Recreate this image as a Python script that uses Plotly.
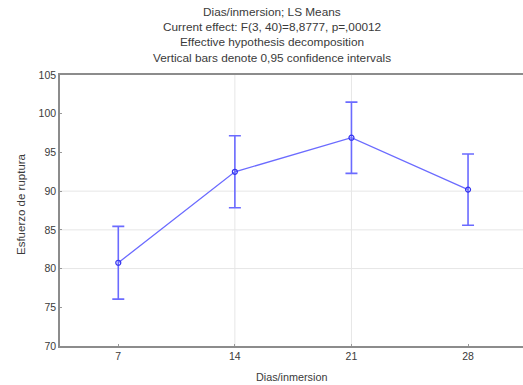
import plotly.graph_objects as go

days = [7, 14, 21, 28]
means = [80.75, 92.5, 96.9, 90.2]
ci_half = [4.7, 4.65, 4.6, 4.6]
x_ticks = [7, 14, 21, 28]
y_ticks = [70, 75, 80, 85, 90, 95, 100, 105]
grid_y = [80, 85, 90]
grid_x = [14, 21]

title_lines = [
    "Dias/inmersion; LS Means",
    "Current effect: F(3, 40)=8,8777, p=,00012",
    "Effective hypothesis decomposition",
    "Vertical bars denote 0,95 confidence intervals",
]
x_title = "Dias/inmersion"
y_title = "Esfuerzo de ruptura"

W, H = 523, 385
blue = "#6b6bff"
grid_col = "#e6e6e6"
txt = "#3a3a3a"

fig = go.Figure()
fig.add_trace(go.Scatter(
    x=days, y=means, mode="lines+markers",
    line=dict(color=blue, width=1.3),
    marker=dict(symbol="circle-open", size=5, color="#3333ee", line=dict(width=1.2)),
    error_y=dict(type="data", array=ci_half, visible=True, color=blue, thickness=1.6, width=6),
    showlegend=False,
))

shapes = []
for gy in grid_y:
    shapes.append(dict(type="line", xref="paper", yref="y", x0=0, x1=1, y0=gy, y1=gy,
                       line=dict(color=grid_col, width=1), layer="below"))
for gx in grid_x:
    shapes.append(dict(type="line", xref="x", yref="paper", x0=gx, x1=gx, y0=0, y1=1,
                       line=dict(color=grid_col, width=1), layer="below"))

annotations = []
title_y = [11.7, 27.0, 42.5, 58.0]
for line, ty in zip(title_lines, title_y):
    annotations.append(dict(text=line, xref="paper", yref="paper", showarrow=False,
                            x=(272 - 60) / (W - 60), y=1 + (75 - ty) / (H - 75 - 39),
                            xanchor="center", yanchor="middle",
                            font=dict(size=11.8, color=txt)))
annotations.append(dict(text=x_title, xref="paper", yref="paper", showarrow=False,
                        x=(291 - 60) / (W - 60), y=-(377 - 346) / (H - 75 - 39),
                        xanchor="center", yanchor="middle", font=dict(size=10.8, color=txt)))
annotations.append(dict(text=y_title, xref="paper", yref="paper", showarrow=False,
                        x=-(60 - 21) / (W - 60), y=(346 - 204) / (H - 75 - 39), textangle=-90,
                        xanchor="center", yanchor="middle", font=dict(size=11.5, color=txt)))

fig.update_layout(
    width=W, height=H,
    margin=dict(l=60, r=0, t=75, b=39, autoexpand=False),
    paper_bgcolor="white", plot_bgcolor="white",
    font=dict(family="Liberation Sans, Arial, sans-serif", size=10.5, color=txt),
    shapes=shapes,
    annotations=annotations,
    xaxis=dict(range=[3.5, 31.3], tickvals=x_ticks, ticktext=[str(v) for v in x_ticks],
               showgrid=False, zeroline=False, showline=True, linecolor="#8c8c8c", linewidth=1.5,
               mirror=True, ticks="inside", ticklen=2, tickcolor="#999999",
               automargin=False, tickfont=dict(size=10.5)),
    yaxis=dict(range=[70, 105], tickvals=y_ticks, showgrid=False, zeroline=False,
               showline=True, linecolor="#8c8c8c", linewidth=1.5,
               ticks="inside", ticklen=2, tickcolor="#999999",
               automargin=False, tickfont=dict(size=10.5)),
)

fig.write_html("out.html", config={"displayModeBar": False},
               post_script="document.body.style.margin='0';document.body.style.overflow='hidden';")
